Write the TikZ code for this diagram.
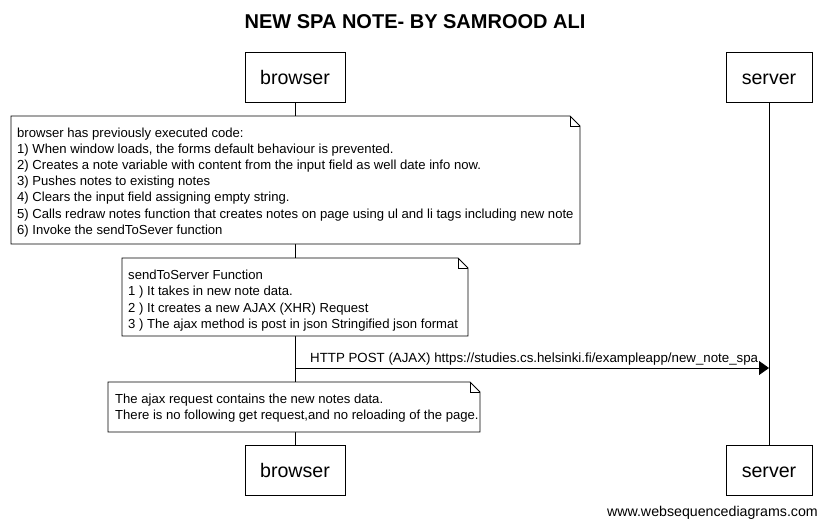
\documentclass[tikz,border=0pt]{standalone}
\usepackage{fontspec}
\setmainfont{Liberation Sans}
\usetikzlibrary{arrows.meta}
\tikzset{
  actor/.style={draw, line width=0.8pt, fill=white, minimum height=50pt, inner sep=0pt, text height=14pt, text depth=0pt, font=\fontsize{19.6}{22}\selectfont},
  lifeline/.style={line width=0.8pt},
  notetext/.style={anchor=north west, align=left, inner sep=0pt, font=\fontsize{13.1}{16.2}\selectfont},
  msg/.style={line width=0.8pt, -{Triangle[length=10pt,width=14pt]}},
}
\newcommand{\notebox}[4]{% x1,y1,x2,y2
  \fill[white] (#1,#2) -- (#3-10,#2) -- (#3,#2+10) -- (#3,#4) -- (#1,#4) -- cycle;
  \draw[line width=0.8pt] (#1,#2) -- (#3-10,#2) -- (#3,#2+10) -- (#3,#4) -- (#1,#4) -- cycle;
  \draw[line width=0.8pt] (#3-10,#2) -- (#3-10,#2+10) -- (#3,#2+10);
}
\begin{document}
\begin{tikzpicture}[x=1pt,y=-1pt]
\useasboundingbox (0,0) rectangle (827,528);
\node[font=\fontsize{20}{22}\selectfont\bfseries] (title) at (415,22) {NEW SPA NOTE- BY SAMROOD ALI};
% actors
\node[actor, minimum width=100pt] (bt) at (295,77) {browser};
\node[actor, minimum width=86pt] (st) at (769,77) {server};
\node[actor, minimum width=100pt] (bb) at (295,470) {browser};
\node[actor, minimum width=86pt] (sb) at (769,470) {server};
\draw[lifeline] (bt.south) -- (bb.north);
\draw[lifeline] (st.south) -- (sb.north);
% note 1
\notebox{11}{116}{580}{244}
\node[notetext] (n1) at (17,127.5) {browser has previously executed code:\\
1) When window loads, the forms default behaviour is prevented.\\
2) Creates a note variable with content from the input field as well date info now.\\
3) Pushes notes to existing notes\\
4) Clears the input field assigning empty string.\\
5) Calls redraw notes function that creates notes on page using ul and li tags including new note\\
6) Invoke the sendToSever function};
% note 2
\notebox{122}{258}{468}{336}
\node[notetext] (n2) at (128,270) {sendToServer Function\\
1 ) It takes in new note data.\\
2 ) It creates a new AJAX (XHR) Request\\
3 ) The ajax method is post in json Stringified json format};
% message
\coordinate (ms) at (295,368);
\coordinate (me) at (769,368);
\draw[msg] (ms) -- (me);
\node[anchor=south west, inner sep=0pt, font=\fontsize{13.3}{15}\selectfont] (ml) at (310,365) {HTTP POST (AJAX) https://studies.cs.helsinki.fi/exampleapp/new\_note\_spa};
% note 3
\notebox{108}{382}{480}{432}
\node[notetext] (n3) at (115,394) {The ajax request contains the new notes data.\\
There is no following get request,and no reloading of the page.};
% footer
\node[anchor=east, inner sep=0pt, font=\fontsize{14.2}{16}\selectfont] (foot) at (818,513) {www.websequencediagrams.com};
\end{tikzpicture}
\end{document}
